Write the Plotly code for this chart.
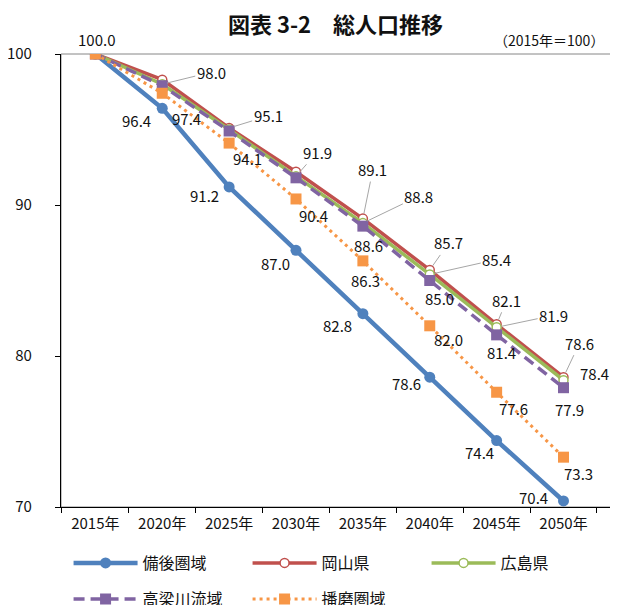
import plotly.graph_objects as go

years = ["2015年", "2020年", "2025年", "2030年", "2035年", "2040年", "2045年", "2050年"]
bingo = [100.0, 96.4, 91.2, 87.0, 82.8, 78.6, 74.4, 70.4]
okayama = [100.0, 98.3, 95.1, 92.2, 89.1, 85.7, 82.1, 78.6]
hiroshima = [100.0, 98.0, 95.0, 91.9, 88.8, 85.4, 81.9, 78.4]
takahashi = [100.0, 97.9, 94.9, 91.8, 88.6, 85.0, 81.4, 77.9]
harima = [100.0, 97.4, 94.1, 90.4, 86.3, 82.0, 77.6, 73.3]
names = ["備後圏域", "岡山県", "広島県", "高梁川流域", "播磨圏域"]
y_ticks = [70, 80, 90, 100]

FONT = "Noto Sans CJK JP"
BLUE, RED, GREEN, PURPLE, ORANGE = "#4F81BD", "#C0504D", "#9BBB59", "#8064A2", "#F79646"

fig = go.Figure()
fig.add_trace(go.Scatter(x=years, y=bingo, name=names[0], mode="lines+markers",
                         line=dict(color=BLUE, width=4.5),
                         marker=dict(symbol="circle", size=11, color=BLUE), legend="legend"))
fig.add_trace(go.Scatter(x=years, y=okayama, name=names[1], mode="lines+markers",
                         line=dict(color=RED, width=3.5),
                         marker=dict(symbol="circle", size=9, color="white",
                                     line=dict(color=RED, width=1.5)), legend="legend"))
fig.add_trace(go.Scatter(x=years, y=hiroshima, name=names[2], mode="lines+markers",
                         line=dict(color=GREEN, width=3.5),
                         marker=dict(symbol="circle", size=9, color="white",
                                     line=dict(color=GREEN, width=1.5)), legend="legend"))
fig.add_trace(go.Scatter(x=years, y=takahashi, name=names[3], mode="lines+markers",
                         line=dict(color=PURPLE, width=3.5, dash="11px,6px"),
                         marker=dict(symbol="square", size=11, color=PURPLE), legend="legend2"))
fig.add_trace(go.Scatter(x=years, y=harima, name=names[4], mode="lines+markers",
                         line=dict(color=ORANGE, width=3, dash="3px,4px"),
                         marker=dict(symbol="square", size=11, color=ORANGE), legend="legend2"))

series = {"b": bingo, "r": okayama, "g": hiroshima, "p": takahashi, "o": harima}
# (series, index, dx px, dy px (down positive), leader line)
labels = [
    ("b", 0, 1, -15, False), ("b", 1, -26, 12, False), ("b", 2, -25, 9, False),
    ("b", 3, -21, 13, False), ("b", 4, -25, 12, False), ("b", 5, -23, 6, False),
    ("b", 6, -17, 12, False), ("b", 7, -30, -3, False),
    ("o", 1, 24, 25, False), ("o", 2, 18, 15, False), ("o", 3, 17, 17, False),
    ("o", 4, 3, 20, False), ("o", 5, 19, 14, False), ("o", 6, 17, 16, False),
    ("o", 7, 15, 16, False),
    ("p", 4, 6, 19, False), ("p", 5, 10, 18, False), ("p", 6, 5, 18, False),
    ("p", 7, 6, 22, False),
    ("r", 2, 39, -12, True), ("r", 4, 10, -49, True), ("r", 5, 19, -27, True),
    ("r", 6, 10, -24, True), ("r", 7, 16, -34, True),
    ("g", 1, 49, -12, True), ("g", 3, 21, -24, True), ("g", 4, 56, -27, True),
    ("g", 5, 67, -15, True), ("g", 6, 57, -12, True), ("g", 7, 31, -7, False),
]
for key, i, dx, dy, arrow in labels:
    v = series[key][i]
    common = dict(x=years[i], y=v, text=f"{v:.1f}", font=dict(family=FONT, size=15, color="#111"))
    if arrow:
        fig.add_annotation(**common, showarrow=True, ax=dx, ay=dy, axref="pixel", ayref="pixel",
                           arrowhead=0, arrowwidth=1, arrowcolor="#a6a6a6", standoff=5)
    else:
        fig.add_annotation(**common, showarrow=False, xshift=dx, yshift=-dy)

fig.add_annotation(text="（2015年＝100）", xref="paper", yref="paper", x=0.991, y=1.031,
                   xanchor="right", yanchor="middle", showarrow=False,
                   font=dict(family=FONT, size=14, color="#111"))

fig.add_shape(type="rect", xref="paper", yref="paper", x0=0, y0=0, x1=1, y1=1,
              line=dict(color="#868686", width=1), layer="below")

legend_common = dict(orientation="h", xref="container", yref="container", x=0.098,
                     xanchor="left", yanchor="middle", entrywidth=100,
                     entrywidthmode="pixels", itemwidth=64,
                     font=dict(size=16, color="#111"), bgcolor="rgba(0,0,0,0)")

fig.update_layout(
    width=618, height=605,
    margin=dict(l=53, r=15, t=46, b=106, autoexpand=False),
    paper_bgcolor="white", plot_bgcolor="white",
    font=dict(family=FONT, color="#111"),
    title=dict(text="<b>図表 3-2　総人口推移</b>", x=0.53, xanchor="center", y=0.972,
               yanchor="middle", font=dict(family=FONT, size=22, color="#111")),
    xaxis=dict(type="category", categoryorder="array", categoryarray=years,
               tickson="boundaries", ticks="outside", ticklen=5, tickcolor="black",
               showline=True, linecolor="black", linewidth=1.2, showgrid=False,
               tickfont=dict(size=15), ticklabelstandoff=3, automargin=False,
               fixedrange=True),
    yaxis=dict(range=[70, 100], tickvals=y_ticks, ticks="outside", ticklen=5,
               tickcolor="black", showline=True, linecolor="black", linewidth=1.2,
               showgrid=False, zeroline=False, tickfont=dict(size=15),
               ticklabelstandoff=20, automargin=False),
    legend=dict(**legend_common, y=1 - 555 / 605),
    legend2=dict(**legend_common, y=1 - 591 / 605),
)

fig.write_html("out.html")
